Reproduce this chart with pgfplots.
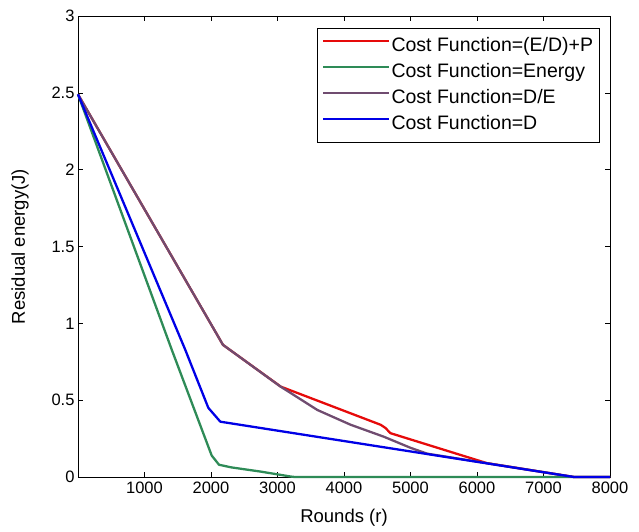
\documentclass[border=0pt]{standalone}
\usepackage{pgfplots}
\pgfplotsset{compat=1.18}
\usepackage{fontspec}
\setmainfont{Liberation Sans}
\definecolor{cRed}{RGB}{230,10,10}
\definecolor{cGreen}{RGB}{46,139,87}
\definecolor{cPurple}{RGB}{112,76,112}
\definecolor{cBlue}{RGB}{0,0,230}
\begin{document}
\begin{tikzpicture}
\begin{axis}[
  name=ax,
  scale only axis,
  width=532bp, height=461bp,
  xmin=0, xmax=8000, ymin=0, ymax=3,
  xtick={1000,2000,3000,4000,5000,6000,7000,8000},
  ytick={0,0.5,1,1.5,2,2.5,3},
  scaled x ticks=false,
  /pgf/number format/1000 sep={},
  /pgf/number format/assume math mode=true,
  tick align=inside,
  tick pos=both,
  major tick length=5bp,
  tick style={black, line width=0.6pt},
  axis line style={black, line width=0.8pt},
  tick label style={font=\fontsize{16.5bp}{19bp}\selectfont},
  xticklabel style={yshift=-1bp},
  label style={font=\fontsize{18.5bp}{21bp}\selectfont},
  xlabel={Rounds (r)},
  ylabel={Residual energy(J)},
  xlabel style={at={(axis description cs:0.5,-0.089)}, anchor=center},
  ylabel style={at={(axis description cs:-0.109,0.5)}, anchor=center},
  clip=false,
  legend cell align=left,
  legend style={at={(axis description cs:0.98,0.974)}, anchor=north east,
    font=\fontsize{19.5bp}{22bp}\selectfont,
    inner xsep=5bp, inner ysep=8bp, row sep=6bp,
    nodes={inner sep=1bp, text height=14bp, text depth=4bp}},
  legend image code/.code={\draw[#1] (0bp,5bp) -- (66bp,5bp);},
]
\addplot[draw=cRed, line width=2.3pt, line join=round] coordinates {
 (0,2.49) (2180,0.86) (3050,0.588) (4550,0.34) (4620,0.32) (4700,0.285)
 (6150,0.09) (7459,0) (8000,0)};
\addlegendentry{Cost Function=(E/D)+P}
\addplot[draw=cGreen, line width=2.3pt, line join=round] coordinates {
 (0,2.49) (1411,0.827) (2010,0.14) (2120,0.08) (2300,0.063) (2750,0.035)
 (3200,0.003) (3260,0) (8000,0)};
\addlegendentry{Cost Function=Energy}
\addplot[draw=cPurple, line width=2.3pt, line join=round] coordinates {
 (0,2.49) (2180,0.86) (3040,0.59) (3600,0.436) (4100,0.34) (4600,0.262)
 (5000,0.19) (5250,0.152) (7459,0) (8000,0)};
\addlegendentry{Cost Function=D/E}
\addplot[draw=cBlue, line width=2.3pt, line join=round] coordinates {
 (0,2.49) (1611,0.83) (1960,0.45) (2140,0.36) (7459,0) (8000,0)};
\addlegendentry{Cost Function=D}
\end{axis}
\pgfresetboundingbox
\path[use as bounding box] ([shift={(-78bp,-54bp)}]ax.south west) rectangle ([shift={(29bp,16bp)}]ax.north east);
\end{tikzpicture}
\end{document}
